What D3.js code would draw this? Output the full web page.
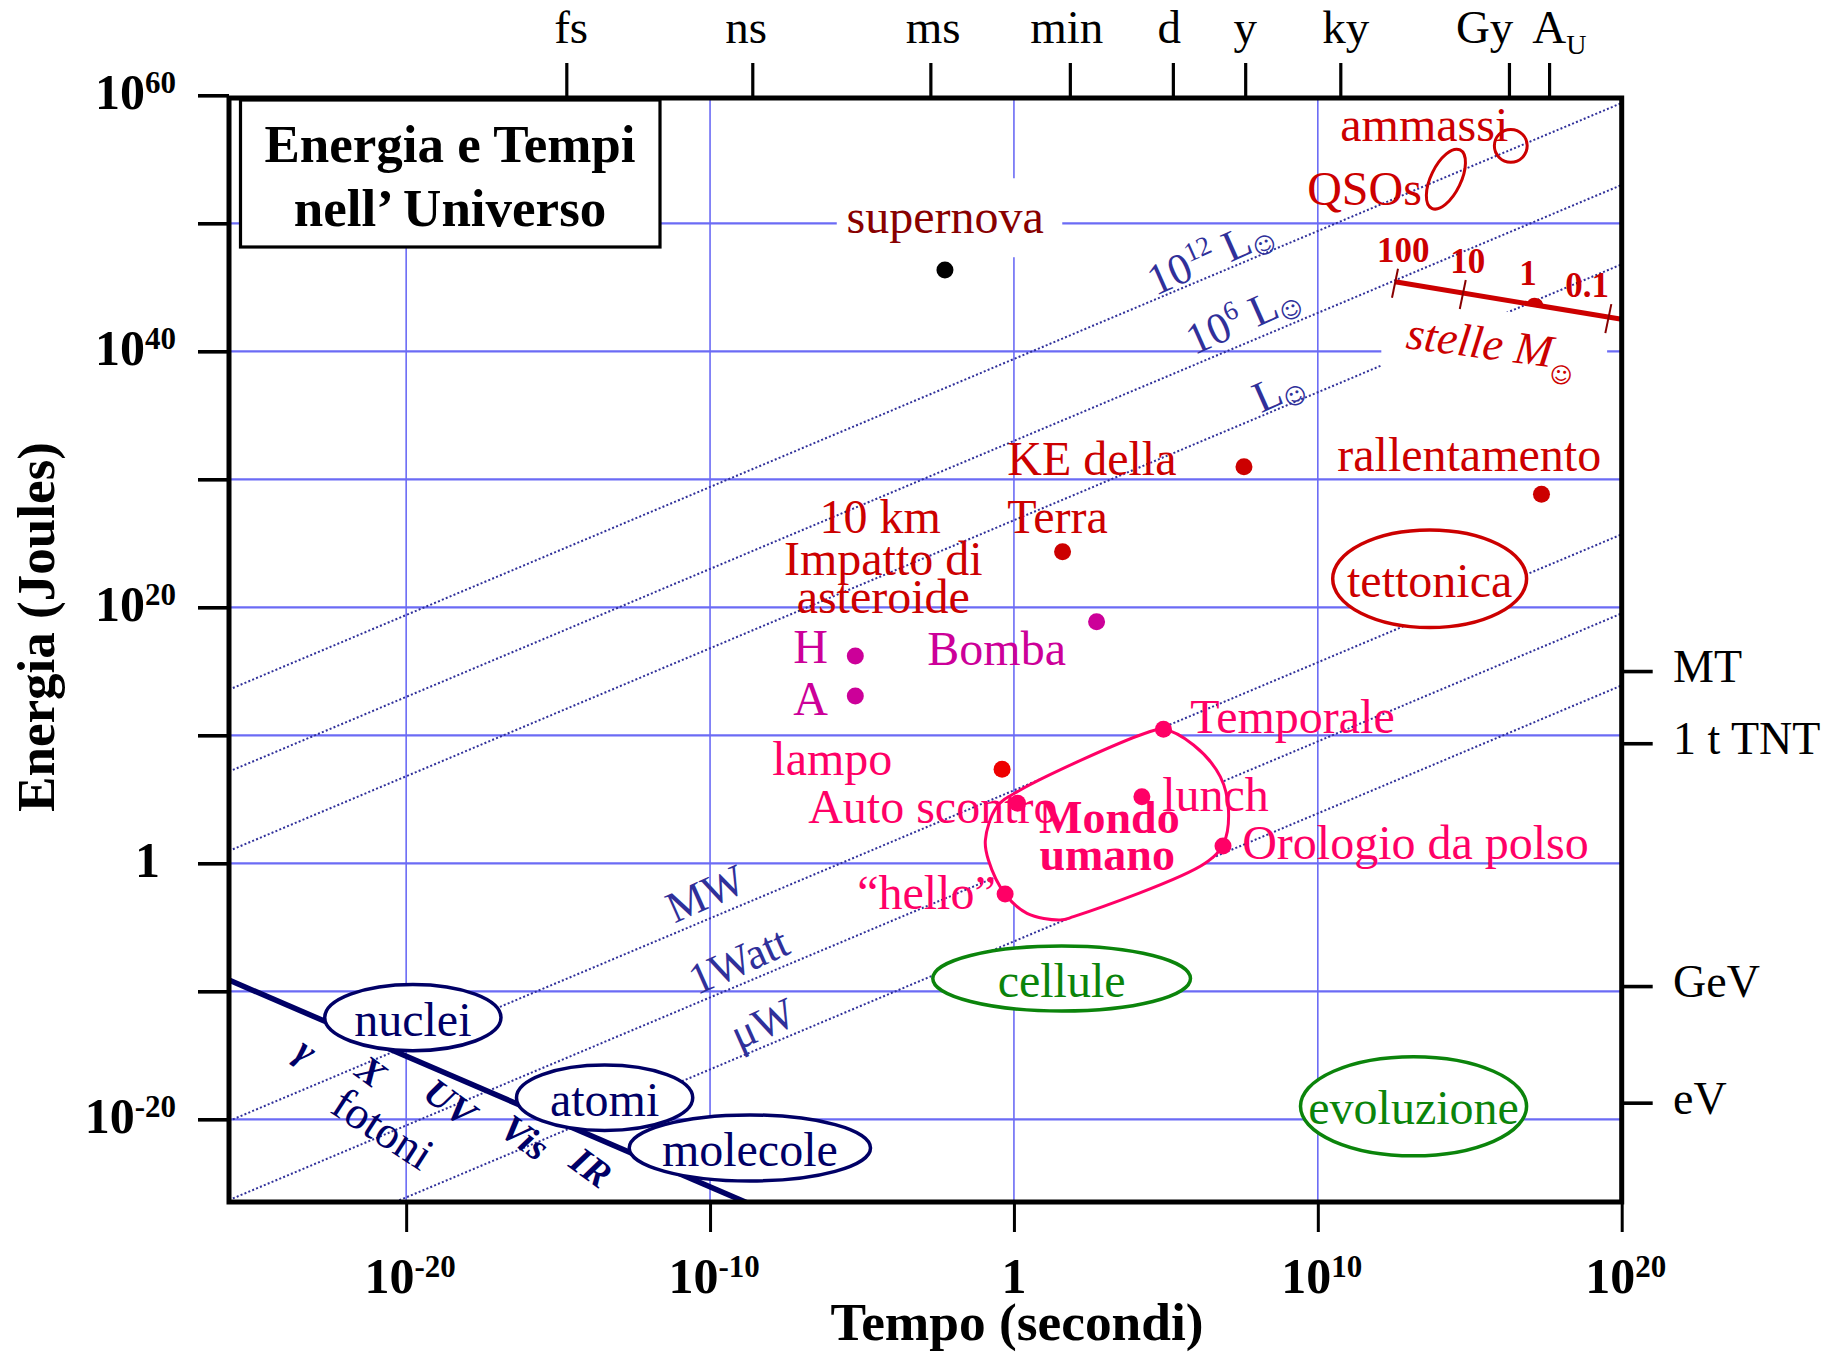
<!DOCTYPE html>
<html><head><meta charset="utf-8">
<script src="https://cdn.jsdelivr.net/npm/d3@7"></script>
<style>
body{margin:0;background:#fff;}
svg text{font-family:"Liberation Serif","Times New Roman",Times,serif;}
</style></head><body>
<svg id="chart" width="1833" height="1353"></svg>
<script>
// ================= DATA (all values in log10 units) =================
const xDomain = [-25.83, 20];            // log10 time (s)
const yDomain = [-26.46, 59.79];         // log10 energy (J)
const xTickValues = [-20, -10, 0, 10, 20];
const xTickLabels = [["10","-20"],["10","-10"],["1",""],["10","10"],["10","20"]];
const yTickValues = [60, 50, 40, 30, 20, 10, 0, -10, -20];
const yLabelValues = [60, 40, 20, 0, -20];
const yTickLabels = [["10","60"],["10","40"],["10","20"],["1",""],["10","-20"]];
const xGrid = [-20, -10, 0, 10];
const yGrid = [50, 40, 30, 20, 10, 0, -10, -20];
const topTickNames = ["fs","ns","ms","min","d","y","ky","Gy","A"];
const topTickValues = [-14.73, -8.61, -2.75, 1.84, 5.23, 7.61, 10.74, 16.29, 17.61];
const topLabelValues = [-14.57, -8.81, -2.66, 1.74, 5.11, 7.61, 10.92, 15.49, 17.95];
const rightTickNames = ["MT", "1 t TNT", "GeV", "eV"];
const rightTickValues = [15.02, 9.38, -9.59, -18.70];

// constant-power lines: log10 E = log10 t + log10 P
const powerNames = ["10^12 L", "10^6 L", "L", "MW", "1Watt", "\u03bcW"];
const powerLog = [39.4, 33.0, 26.8, 5.7, -0.48, -6.1];
const powerLabelT = [6.43, 7.51, 8.67, -10.16, -9.07, -8.28];
const powerLabelE = [47.52, 42.68, 37.06, -2.32, -7.55, -12.48];

// events (dots)
const eventNames = ["supernova","H","A","KE Terra","rallentamento","asteroide","Bomba","lampo","Temporale","lunch","Auto scontro","Orologio","hello"];
const eventT = [-2.27, -5.22, -5.22, 7.57, 17.36, 1.60, 2.72, -0.39, 4.92, 4.21, 0.12, 6.88, -0.29];
const eventE = [46.35, 16.2, 13.08, 30.98, 28.83, 24.34, 18.88, 7.34, 10.47, 5.2, 4.69, 1.35, -2.4];
const eventGroup = ["super","bomb","bomb","geo","geo","geo","bomb","flash","human","human","human","human","human"];

// labelled regions (ellipses)
const regionNames = ["nuclei","atomi","molecole","cellule","evoluzione","tettonica"];
const regionT = [-19.78, -13.47, -8.69, 1.57, 13.15, 13.68];
const regionE = [-12.05, -18.32, -22.24, -9.0, -18.98, 22.23];
const regionSpanT = [2.9, 2.9, 3.97, 4.24, 3.72, 3.19];
const regionSpanE = [2.59, 2.56, 2.58, 2.54, 3.87, 3.81];
const regionGroup = ["navy","navy","navy","green","green","geo"];

// QSOs ellipse (major-axis ends) and clusters circle
const qsoAxis = [[13.75, 51.17], [14.68, 55.73]];
const clusterCenter = [16.35, 56.05];
const clusterSpanT = 0.54;

// photon line (E = hc / (c t))
const photonLine = [[-25.83, -9.12], [-8.80, -26.5]];
const photonNames = ["\u03b3", "X", "fotoni", "UV", "Vis", "IR"];
const photonT = [-23.28, -21.15, -20.75, -18.55, -16.08, -13.91];
const photonE = [-14.59, -16.23, -20.68, -18.65, -21.39, -23.73];

// "Mondo umano" outline
const mondoOutline = [[4.92,10.47],[5.91,9.24],[6.79,6.77],[7.06,4.16],[6.90,1.56],[6.29,0.0],
  [1.96,-4.17],[1.52,-4.43],[0.43,-3.91],[-0.29,-2.4],[-0.84,0.26],[-0.94,1.82],[-0.56,4.42],[0.21,5.73],[4.32,10.16]];

// star lifetimes vs mass
const stelleLineT = [12.54, 20.0];
const stelleLineE = [45.44, 42.5];
const stelleMass = ["100", "10", "1", "0.1"];
const stelleMassT = [12.54, 14.77, 17.15, 19.56];
const stelleLabelT = [12.81, 14.93, 16.92, 18.86];

// text annotations
const labelText = ["supernova","10 km","Impatto di","asteroide","H","A","KE della","Terra","rallentamento","Bomba",
  "Temporale","lampo","Auto scontro","lunch","Orologio da polso","\u201chello\u201d","ammassi","QSOs","tettonica"];
const labelT = [-2.26,-4.40,-4.30,-4.30,-7.26,-7.26,-0.22,-0.22,10.64,-2.85,5.80,-7.95,-6.77,4.88,7.51,-5.16,10.74,9.65,0];
const labelE = [49.23,25.8,22.52,19.55,15.65,11.59,30.34,25.8,30.65,15.49,10.18,6.9,3.15,4.09,0.34,-3.56,56.43,51.43,0];
const labelGroup = ["super","geo","geo","geo","bomb","bomb","geo","geo","geo","bomb","human","human","human","human","human","human","geo","geo","none"];
const labelAnchor = ["middle","middle","middle","middle","start","start","start","start","start","start","start","start","start","start","start","start","start","start","none"];
const mondoText = ["Mondo", "umano"];
const mondoT = [3.14, 3.07];
const mondoE = [2.37, -0.52];
const stelleText = "stelle M";
const stelleTextPos = [12.87, 40.25];

// white masks behind labels [t0,t1,E0,E1]
const masks = [[-5.83, 1.59, 47.35, 53.52], [12.09, 19.52, 36.05, 43.07]];

// ================= DRAWING =================
const C = {grid:"#6b6bf5", power:"#30309a", navy:"#000066", geo:"#cc0000", human:"#ff0066",
           bomb:"#cc0099", super:"#880000", flash:"#ee0000", green:"#0b840b", black:"#000"};
const svg = d3.select("#chart");
const x = d3.scaleLinear().domain(xDomain).range([229, 1621.7]);
const y = d3.scaleLinear().domain(yDomain).range([1202, 98]);
const X0 = x.range()[0], X1 = x.range()[1], YT = y.range()[1], YB = y.range()[0];

svg.append("rect").attr("width",1833).attr("height",1353).attr("fill","#fff");
svg.append("defs").append("clipPath").attr("id","plot").append("rect")
  .attr("x",X0).attr("y",YT).attr("width",X1-X0).attr("height",YB-YT);
const plot = svg.append("g").attr("clip-path","url(#plot)");

// grid
plot.append("g").selectAll("line").data(yGrid).join("line")
  .attr("x1",X0).attr("x2",X1).attr("y1",d=>y(d)).attr("y2",d=>y(d))
  .attr("stroke",C.grid).attr("stroke-width",2.2);
plot.append("g").selectAll("line").data(xGrid).join("line")
  .attr("x1",d=>x(d)).attr("x2",d=>x(d)).attr("y1",YT).attr("y2",YB)
  .attr("stroke",C.grid).attr("stroke-width",1.6);

// power lines
const line = d3.line().x(d=>x(d[0])).y(d=>y(d[1]));
plot.append("g").selectAll("path").data(powerLog).join("path")
  .attr("d", p => line([[xDomain[0], xDomain[0]+p], [xDomain[1], xDomain[1]+p]]))
  .attr("fill","none").attr("stroke",C.power).attr("stroke-width",2).attr("stroke-dasharray","2,2.2");

// masks
plot.append("g").selectAll("rect").data(masks).join("rect")
  .attr("x",d=>x(d[0])).attr("width",d=>x(d[1])-x(d[0]))
  .attr("y",d=>y(d[3])).attr("height",d=>y(d[2])-y(d[3])).attr("fill","#fff");

// photon line
plot.append("path").attr("d", line(photonLine)).attr("fill","none")
  .attr("stroke",C.navy).attr("stroke-width",5.5);

// region ellipses
const regionColor = g => g==="navy"?C.navy:(g==="green"?C.green:C.geo);
const rg = plot.append("g");
rg.selectAll("ellipse").data(regionNames).join("ellipse")
  .attr("cx",(d,i)=>x(regionT[i])).attr("cy",(d,i)=>y(regionE[i]))
  .attr("rx",(d,i)=>x(regionT[i]+regionSpanT[i])-x(regionT[i]))
  .attr("ry",(d,i)=>y(regionE[i])-y(regionE[i]+regionSpanE[i]))
  .attr("fill","#fff").attr("stroke",(d,i)=>regionColor(regionGroup[i])).attr("stroke-width",3.5);
rg.selectAll("text").data(regionNames).join("text")
  .attr("x",(d,i)=>x(regionT[i])).attr("y",(d,i)=>y(regionE[i]))
  .attr("dy","0.38em").attr("text-anchor","middle").attr("font-size",48)
  .attr("fill",(d,i)=>regionColor(regionGroup[i])).text(d=>d);

// QSOs ellipse and clusters circle
{
  const p0=[x(qsoAxis[0][0]),y(qsoAxis[0][1])], p1=[x(qsoAxis[1][0]),y(qsoAxis[1][1])];
  const cx=(p0[0]+p1[0])/2, cy=(p0[1]+p1[1])/2;
  const a=Math.hypot(p1[0]-p0[0],p1[1]-p0[1])/2;
  const ang=Math.atan2(p1[1]-p0[1],p1[0]-p0[0])*180/Math.PI;
  plot.append("ellipse").attr("cx",0).attr("cy",0).attr("rx",a).attr("ry",15)
    .attr("transform",`translate(${cx},${cy}) rotate(${ang})`)
    .attr("fill","none").attr("stroke",C.geo).attr("stroke-width",3);
  plot.append("circle").attr("cx",x(clusterCenter[0])).attr("cy",y(clusterCenter[1]))
    .attr("r",x(clusterCenter[0]+clusterSpanT)-x(clusterCenter[0]))
    .attr("fill","none").attr("stroke",C.geo).attr("stroke-width",3);
}

// Mondo umano outline
plot.append("path")
  .attr("d", d3.line().x(d=>x(d[0])).y(d=>y(d[1])).curve(d3.curveCatmullRomClosed.alpha(0.5))(mondoOutline))
  .attr("fill","#fff").attr("stroke",C.human).attr("stroke-width",3);

// star mass scale
{
  const eAt = d3.scaleLinear().domain(stelleLineT).range(stelleLineE);
  const g = plot.append("g");
  g.append("path").attr("d", line(stelleLineT.map((t,i)=>[t,stelleLineE[i]])))
    .attr("stroke",C.geo).attr("stroke-width",5).attr("fill","none");
  g.selectAll("line.tk").data(stelleMassT.filter((t,i)=>stelleMass[i]!=="1")).join("line")
    .attr("x1",t=>x(t)+3).attr("x2",t=>x(t)-3).attr("y1",t=>y(eAt(t))-13).attr("y2",t=>y(eAt(t))+16)
    .attr("stroke","#880000").attr("stroke-width",2);
  const tSun = stelleMassT[stelleMass.indexOf("1")];
  g.append("path").attr("transform",`translate(${x(tSun)},${y(eAt(tSun))}) rotate(9)`)
    .attr("d","M-9,2 Q-8,-7 0,-7 Q8,-7 9,2 Z").attr("fill",C.geo);
  svg.append("g").selectAll("text").data(stelleMass).join("text")
    .attr("x",(d,i)=>x(stelleLabelT[i])).attr("y",(d,i)=>y(eAt(stelleMassT[i]))-20)
    .attr("text-anchor","middle").attr("font-size",35).attr("font-weight","bold").attr("fill",C.geo).text(d=>d);
}

// event dots
const eventColor = g => C[g==="super"?"black":g];
plot.append("g").selectAll("circle").data(eventNames).join("circle")
  .attr("cx",(d,i)=>x(eventT[i])).attr("cy",(d,i)=>y(eventE[i])).attr("r",8.5)
  .attr("fill",(d,i)=>eventColor(eventGroup[i]));

// annotations
const lg = svg.append("g");
labelText.forEach((txt,i)=>{
  if(labelGroup[i]==="none") return;
  lg.append("text").attr("x",x(labelT[i])).attr("y",y(labelE[i]))
    .attr("text-anchor",labelAnchor[i]).attr("font-size",48).attr("fill",C[labelGroup[i]]).text(txt);
});
mondoText.forEach((txt,i)=>{
  lg.append("text").attr("x",x(mondoT[i])).attr("y",y(mondoE[i])).attr("text-anchor","middle")
    .attr("font-size",46).attr("font-weight","bold").attr("fill",C.human).text(txt);
});
{
  const t = lg.append("text").attr("transform",`translate(${x(stelleTextPos[0])},${y(stelleTextPos[1])}) rotate(7.5)`)
    .attr("font-size",46).attr("font-style","italic").attr("fill",C.geo);
  t.append("tspan").text(stelleText);
  t.append("tspan").attr("dy",14).attr("font-size",22).attr("font-style","normal")
    .attr("font-family","DejaVu Sans").text("\u263a");
}

// power line labels
powerNames.forEach((nm,i)=>{
  const t = lg.append("text").attr("transform",`translate(${x(powerLabelT[i])},${y(powerLabelE[i])}) rotate(-24)`)
    .attr("text-anchor","middle").attr("dy","0.35em").attr("font-size",44).attr("fill",C.power);
  const m = nm.match(/^10\^(\d+) L$/);
  if(m){
    t.append("tspan").text("10");
    t.append("tspan").attr("dy",-17).attr("font-size",27).text(m[1]);
    t.append("tspan").attr("dy",17).text(" L");
    t.append("tspan").attr("dy",6).attr("font-size",22).attr("font-family","DejaVu Sans").text("\u263a");
  } else if(nm==="L"){
    t.append("tspan").text("L");
    t.append("tspan").attr("dy",6).attr("font-size",22).attr("font-family","DejaVu Sans").text("\u263a");
  } else t.text(nm);
});

// photon band labels
photonNames.forEach((nm,i)=>{
  const isF = nm==="fotoni";
  lg.append("text").attr("transform",`translate(${x(photonT[i])},${y(photonE[i])}) rotate(${isF?33:36})`)
    .attr("text-anchor","middle").attr("dy","0.35em")
    .attr("font-size",isF?46:38).attr("font-weight",isF?"normal":"bold").attr("font-style",isF?"normal":"italic")
    .attr("fill",C.navy).text(nm);
});

// ================= AXES =================
function styleAxis(g, w){
  g.select(".domain").remove();
  g.selectAll(".tick text").remove();
  g.selectAll(".tick line").attr("stroke","#000").attr("stroke-width",w);
}
svg.append("g").attr("transform",`translate(${X0},0)`)
  .call(d3.axisLeft(y).tickValues(yTickValues).tickSize(31).tickFormat(""))
  .call(g=>styleAxis(g,3.6));
svg.append("g").attr("transform",`translate(0,${YB})`)
  .call(d3.axisBottom(x).tickValues(xTickValues).tickSize(30).tickFormat(""))
  .call(g=>styleAxis(g,3));
svg.append("g").attr("transform",`translate(0,${YT})`)
  .call(d3.axisTop(x).tickValues(topTickValues).tickSize(35).tickFormat(""))
  .call(g=>styleAxis(g,3.2));
svg.append("g").attr("transform",`translate(${X1},0)`)
  .call(d3.axisRight(y).tickValues(rightTickValues).tickSize(31).tickFormat(""))
  .call(g=>styleAxis(g,3.6));

// frame
svg.append("rect").attr("x",X0).attr("y",YT).attr("width",X1-X0).attr("height",YB-YT)
  .attr("fill","none").attr("stroke","#000").attr("stroke-width",5);

// y tick labels
yLabelValues.forEach((v,i)=>{
  const t = svg.append("text").attr("x", yTickLabels[i][1] ? 176 : 160).attr("y", y(v)+14)
    .attr("text-anchor","end").attr("font-size",50).attr("font-weight","bold");
  t.append("tspan").text(yTickLabels[i][0]);
  if(yTickLabels[i][1]) t.append("tspan").attr("dy",-16).attr("font-size",31).text(yTickLabels[i][1]);
});
// x tick labels
xTickValues.forEach((v,i)=>{
  const t = svg.append("text").attr("x", x(v)+(xTickLabels[i][1]?4:0)).attr("y",1293)
    .attr("text-anchor","middle").attr("font-size",50).attr("font-weight","bold");
  t.append("tspan").text(xTickLabels[i][0]);
  if(xTickLabels[i][1]) t.append("tspan").attr("dy",-16).attr("font-size",31).text(xTickLabels[i][1]);
});
// top labels
topTickNames.forEach((nm,i)=>{
  const t = svg.append("text").attr("x",x(topLabelValues[i])).attr("y",43)
    .attr("text-anchor","middle").attr("font-size",47);
  t.append("tspan").text(nm);
  if(nm==="A") t.append("tspan").attr("dy",11).attr("font-size",28).text("U");
});
// right labels
rightTickNames.forEach((nm,i)=>{
  svg.append("text").attr("x",1673).attr("y",y(rightTickValues[i])+11)
    .attr("font-size",46).text(nm);
});

// axis titles
svg.append("text").attr("x",1017).attr("y",1340).attr("text-anchor","middle")
  .attr("font-size",52).attr("font-weight","bold").attr("textLength",373).attr("lengthAdjust","spacingAndGlyphs")
  .text("Tempo (secondi)");
svg.append("text").attr("transform","translate(54,627) rotate(-90)").attr("text-anchor","middle")
  .attr("font-size",52).attr("font-weight","bold").attr("textLength",370).attr("lengthAdjust","spacingAndGlyphs")
  .text("Energia (Joules)");

// title box
svg.append("rect").attr("x",240.5).attr("y",100).attr("width",419.5).attr("height",147)
  .attr("fill","#fff").attr("stroke","#000").attr("stroke-width",3.2);
[["Energia e Tempi",162],["nell\u2019 Universo",226]].forEach(d=>{
  svg.append("text").attr("x",450).attr("y",d[1]).attr("text-anchor","middle")
    .attr("font-size",53).attr("font-weight","bold").text(d[0]);
});
</script>
</body></html>
